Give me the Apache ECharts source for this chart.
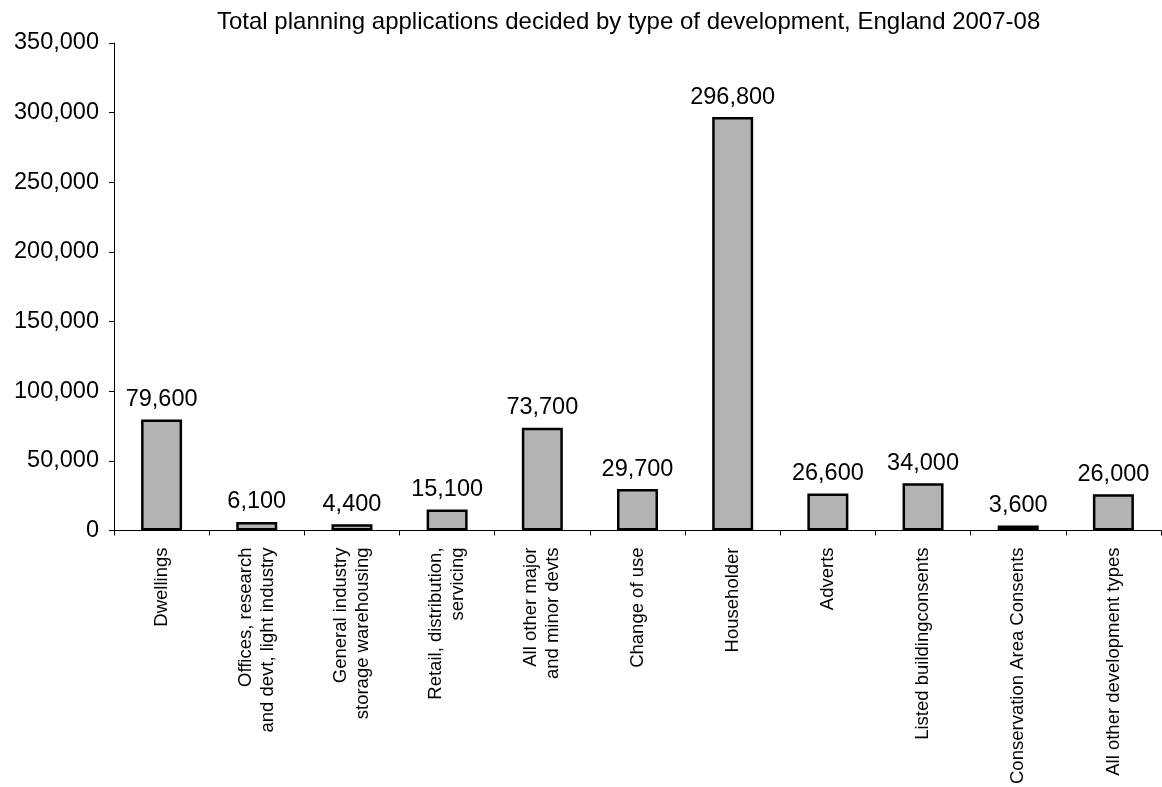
<!DOCTYPE html>
<html>
<head>
<meta charset="utf-8">
<script src="https://cdn.jsdelivr.net/npm/echarts@6/dist/echarts.min.js"></script>
<style>
  html, body { margin: 0; padding: 0; background: #fff; overflow: hidden; }
  #chart { width: 1162px; height: 787px; }
</style>
</head>
<body>
<div id="chart"></div>
<script>
// Planning applications decided, England 2007-08, by development type
const categories = [
  'Dwellings',
  'Offices, research\nand devt, light industry',
  'General industry\nstorage warehousing',
  'Retail, distribution,\nservicing',
  'All other major\nand minor devts',
  'Change of use',
  'Householder',
  'Adverts',
  'Listed buildingconsents',
  'Conservation Area Consents',
  'All other development types'
];
const applications = [79600, 6100, 4400, 15100, 73700, 29700, 296800, 26600, 34000, 3600, 26000];
const yTicks = { min: 0, max: 350000, interval: 50000 };

const fontFamily = '"Liberation Sans", Arial, sans-serif';
const withCommas = v => String(v).replace(/\B(?=(\d{3})+(?!\d))/g, ',');

const chart = echarts.init(document.getElementById('chart'), null, { renderer: 'canvas' });
chart.setOption({
  animation: false,
  backgroundColor: '#ffffff',
  title: {
    text: 'Total planning applications decided by type of development, England 2007-08',
    left: 212,
    top: 5,
    textStyle: { fontFamily, fontSize: 24, fontWeight: 'normal', color: '#000' }
  },
  grid: { left: 114, right: 1, top: 43, bottom: 252, containLabel: false },
  xAxis: {
    type: 'category',
    data: categories,
    axisLine: { lineStyle: { color: '#000', width: 1 } },
    axisTick: { show: true, alignWithLabel: false, length: 5, inside: false, lineStyle: { color: '#000' } },
    axisLabel: {
      interval: 0,
      rotate: 90,
      margin: 17,
      fontFamily,
      fontSize: 18.5,
      lineHeight: 22,
      color: '#000'
    }
  },
  yAxis: {
    type: 'value',
    min: yTicks.min,
    max: yTicks.max,
    interval: yTicks.interval,
    splitLine: { show: false },
    axisLine: { show: true, lineStyle: { color: '#000', width: 1 } },
    axisTick: { show: true, length: 5, lineStyle: { color: '#000' } },
    axisLabel: {
      margin: 15,
      fontFamily,
      fontSize: 23.5,
      color: '#000',
      formatter: v => withCommas(v)
    }
  },
  series: [{
    type: 'bar',
    data: applications,
    barWidth: 41,
    itemStyle: { color: '#b3b3b3', borderColor: '#000', borderWidth: 2.5 },
    label: {
      show: true,
      position: 'top',
      distance: 8,
      fontFamily,
      fontSize: 23.5,
      color: '#000',
      formatter: p => withCommas(p.value)
    }
  }]
});
</script>
</body>
</html>
